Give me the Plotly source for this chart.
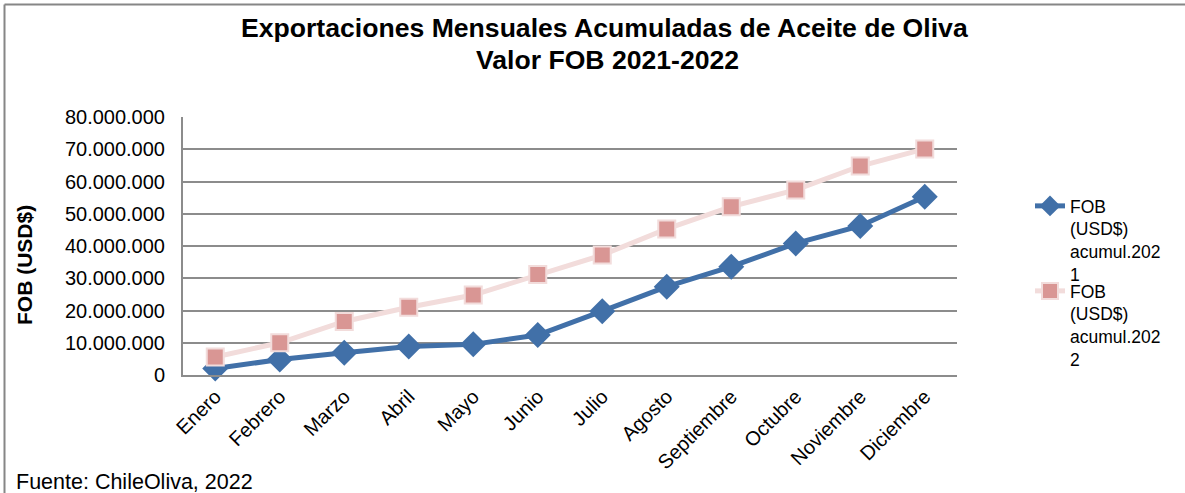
import plotly.graph_objects as go

meses = ["Enero", "Febrero", "Marzo", "Abril", "Mayo", "Junio", "Julio",
         "Agosto", "Septiembre", "Octubre", "Noviembre", "Diciembre"]
fob_2021 = [2.0e6, 4.8e6, 6.9e6, 8.8e6, 9.5e6, 12.4e6, 19.8e6, 27.4e6,
            33.6e6, 40.8e6, 46.2e6, 55.3e6]
fob_2022 = [5.6e6, 10.0e6, 16.6e6, 21.0e6, 24.8e6, 31.2e6, 37.2e6, 45.3e6,
            52.2e6, 57.4e6, 64.8e6, 70.1e6]
y_ticks = [0, 10e6, 20e6, 30e6, 40e6, 50e6, 60e6, 70e6, 80e6]

W, H = 1185, 493
L, R, T, B = 183, 228, 117, 118
pw, ph = W - L - R, H - T - B


def px(x):
    return (x - L) / pw


def py(y):
    return (H - B - y) / ph


FONT = "Liberation Sans, Arial, sans-serif"

fig = go.Figure()
fig.add_trace(go.Scatter(
    x=meses, y=fob_2021, mode="lines+markers",
    name="FOB<br>(USD$)<br>acumul.202<br>1",
    line=dict(color="#4170A8", width=5),
    marker=dict(symbol="diamond", size=20, color="#4170A8",
                line=dict(color="#4170A8", width=0)),
    cliponaxis=False, legend="legend",
))
fig.add_trace(go.Scatter(
    x=meses, y=fob_2022, mode="lines+markers",
    name="FOB<br>(USD$)<br>acumul.202<br>2",
    line=dict(color="#F2DCDB", width=5),
    marker=dict(symbol="square", size=17, color="#D99694",
                line=dict(color="#F2DCDB", width=2)),
    cliponaxis=False, legend="legend2",
))

leg_common = dict(xanchor="left", yanchor="top", valign="top",
                  font=dict(family=FONT, size=17.5, color="black"),
                  bgcolor="rgba(0,0,0,0)", borderwidth=0)

fig.update_layout(
    width=W, height=H,
    margin=dict(l=L, r=R, t=T, b=B, autoexpand=False),
    paper_bgcolor="white", plot_bgcolor="white",
    separators=",.",
    font=dict(family=FONT, size=19, color="black"),
    xaxis=dict(
        type="category", tickangle=-45, showgrid=False,
        showline=True, linecolor="#8C8C8C", linewidth=2,
        ticks="", tickfont=dict(size=20), range=[-0.5, 11.5],
    ),
    yaxis=dict(
        range=[0, 80e6], tickvals=y_ticks, tickformat=",.0f",
        showgrid=True, gridcolor="#8C8C8C", gridwidth=2,
        showline=True, linecolor="#8C8C8C", linewidth=2,
        zeroline=False, ticks="", ticklen=0, tickfont=dict(size=20),
        ticklabelstandoff=12,
    ),
    legend=dict(x=px(1030), y=py(188), **leg_common),
    legend2=dict(x=px(1030), y=py(273), **leg_common),
    showlegend=True,
)

fig.add_annotation(
    text="<b>Exportaciones Mensuales Acumuladas de Aceite de Oliva</b>",
    xref="paper", yref="paper", x=px(604), y=py(28),
    xanchor="center", yanchor="middle", showarrow=False,
    font=dict(family=FONT, size=26.6, color="black"),
)
fig.add_annotation(
    text="<b>Valor FOB 2021-2022</b>",
    xref="paper", yref="paper", x=px(607), y=py(60),
    xanchor="center", yanchor="middle", showarrow=False,
    font=dict(family=FONT, size=26.6, color="black"),
)
fig.add_annotation(
    text="<b>FOB (USD$)</b>", textangle=-90, xref="paper", yref="paper",
    x=px(24), y=py(265), xanchor="center", yanchor="middle", showarrow=False,
    font=dict(family=FONT, size=21, color="black"),
)
fig.add_annotation(
    text="Fuente: ChileOliva, 2022", xref="paper", yref="paper",
    x=px(14), y=py(482), xanchor="left", yanchor="middle", showarrow=False,
    font=dict(family=FONT, size=21.5, color="black"),
)

# chart outer border (left and top edges visible in the crop)
fig.add_shape(type="line", xref="paper", yref="paper",
              x0=px(4.5), y0=py(H + 2), x1=px(4.5), y1=py(4.5),
              line=dict(color="#868686", width=2), layer="above")
fig.add_shape(type="line", xref="paper", yref="paper",
              x0=px(4.5), y0=py(4.5), x1=px(W + 2), y1=py(4.5),
              line=dict(color="#868686", width=2), layer="above")

fig.write_html(
    "out.html",
    config={"displayModeBar": False},
    post_script="document.body.style.margin='0';document.body.style.overflow='hidden';",
)
